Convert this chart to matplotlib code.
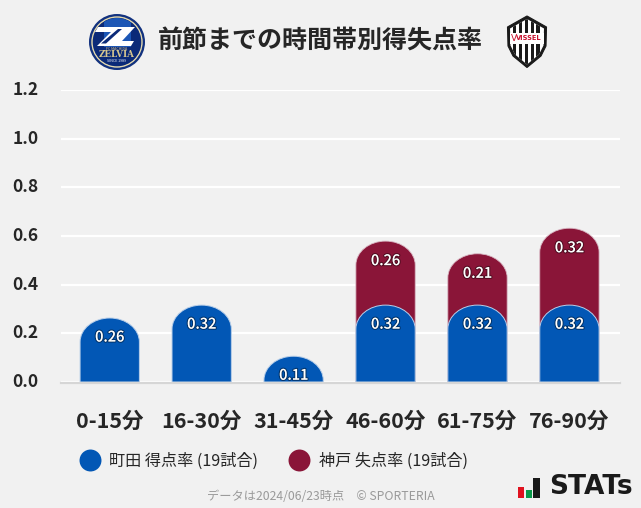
import matplotlib
matplotlib.use("Agg")
import matplotlib.pyplot as plt
from matplotlib.path import Path
from matplotlib.patches import PathPatch, Circle, Polygon, Rectangle
from matplotlib.lines import Line2D
from matplotlib.transforms import ScaledTranslation
import matplotlib.patheffects as pe

plt.rcParams['font.family'] = ['Noto Sans CJK JP', 'DejaVu Sans']

categories = ['0-15分', '16-30分', '31-45分', '46-60分', '61-75分', '76-90分']
machida_rate = [0.263, 0.316, 0.106, 0.316, 0.316, 0.316]
kobe_rate = [0.0, 0.0, 0.0, 0.263, 0.211, 0.316]
yticks = [0.0, 0.2, 0.4, 0.6, 0.8, 1.0, 1.2]
title = '前節までの時間帯別得失点率'
machida_label = '町田 得点率 (19試合)'
kobe_label = '神戸 失点率 (19試合)'
footer = 'データは2024/06/23時点\u3000© SPORTERIA'

BLUE = '#0257b5'
RED = '#8a1538'
BG = '#f1f1f1'
DARK = '#262626'

W, H = 641, 508
fig = plt.figure(figsize=(W / 100, H / 100), dpi=100, facecolor=BG)
L, R, T, B = 61, 620, 90, 382
ax = fig.add_axes([L / W, 1 - B / H, (R - L) / W, (B - T) / H], facecolor=BG)
ax.set_ylim(0, 1.2)
ax.set_xlim(-0.53, 5.55)
BAR_W = 0.645
CAP = 24 / (B - T) * 1.2


def arch(x, bottom, top):
    k = 0.5523
    hw = BAR_W / 2
    cap = min(CAP, top - bottom)
    verts = [(x - hw, bottom), (x - hw, top - cap),
             (x - hw, top - cap + k * cap), (x - k * hw, top), (x, top),
             (x + k * hw, top), (x + hw, top - cap + k * cap), (x + hw, top - cap),
             (x + hw, bottom), (x - hw, bottom)]
    codes = [Path.MOVETO, Path.LINETO, Path.CURVE4, Path.CURVE4, Path.CURVE4,
             Path.CURVE4, Path.CURVE4, Path.CURVE4, Path.LINETO, Path.CLOSEPOLY]
    return Path(verts, codes)


effects = [pe.withStroke(linewidth=1.6, foreground='#00000066')]
PX = 0.72
for i, (m, k) in enumerate(zip(machida_rate, kobe_rate)):
    if k > 0:
        ax.add_patch(PathPatch(arch(i, 0, m + k), fc=RED, ec='#d9b8c4', lw=0.6, zorder=3, clip_on=False))
        ax.annotate(f'{k:.2f}', (i, m + k), xytext=(0, -20 * PX), textcoords='offset points',
                    ha='center', va='center', color='white', fontsize=10.5, fontweight='medium',
                    path_effects=effects, zorder=6)
    ax.add_patch(PathPatch(arch(i, 0, m), fc=BLUE, ec='#b9cfe9', lw=0.7, zorder=4, clip_on=False))
    ax.annotate(f'{m:.2f}', (i, m), xytext=(0, -19.5 * PX), textcoords='offset points',
                ha='center', va='center', color='white', fontsize=10.5, fontweight='medium',
                path_effects=effects, zorder=6)

for s in ax.spines.values():
    s.set_visible(False)
ax.spines['bottom'].set_visible(True)
ax.spines['bottom'].set_color('#d6d6d6')
ax.spines['bottom'].set_linewidth(1.6)
ax.spines['bottom'].set_position(('outward', 0.7))
ax.spines['bottom'].set_zorder(5)

ax.set_yticks(yticks, [f'{v:.1f}' for v in yticks])
ax.set_xticks(range(len(categories)), categories)
ax.tick_params(axis='y', length=0, pad=16, labelsize=12.5, labelcolor=DARK)
ax.tick_params(axis='x', length=0, pad=20, labelsize=15.5, labelcolor=DARK)
shift = ScaledTranslation(0, 2 / 100, fig.dpi_scale_trans)
for t in ax.get_yticklabels():
    t.set_fontweight('bold')
    t.set_transform(t.get_transform() + shift)
for t in ax.get_xticklabels():
    t.set_fontweight('bold')
ax.grid(axis='y', color='white', lw=1.6, zorder=1)
ax.set_axisbelow(True)

# legend
handles = [Line2D([], [], ls='', marker='o', ms=15.8, color=BLUE, mew=0),
           Line2D([], [], ls='', marker='o', ms=15.8, color=RED, mew=0)]
fig.legend(handles, [machida_label, kobe_label], ncol=2, frameon=False, prop={'size': 11.6},
           loc='center left', bbox_to_anchor=(77 / W, 1 - 461.5 / H), labelcolor=DARK,
           handlelength=1.6, handletextpad=0.4, columnspacing=1.76, borderpad=0, borderaxespad=0)

# overlay in pixel coordinates for title, logos, footer
ov = fig.add_axes([0, 0, 1, 1], facecolor='none')
ov.set_xlim(0, W)
ov.set_ylim(H, 0)
ov.axis('off')
ov.text(320.5, 41, title, ha='center', va='center', fontsize=18, fontweight='bold', color=DARK)
ov.text(320.5, 497, footer, ha='center', va='center', fontsize=8.8, color='#9a9a9a')

# Zelvia crest
ZC = (117, 42)
ov.add_patch(Circle(ZC, 28, fc='#12327f', ec='none'))
ov.add_patch(Circle(ZC, 25, fc='none', ec='#e4d9ae', lw=1.0))
disc = Circle(ZC, 24, fc='#0b2a78', ec='none')
ov.add_patch(disc)
top = Rectangle((104, 17), 27, 30, fc='#1c56b5', ec='none')
ov.add_patch(top)
top.set_clip_path(disc)
ov.add_patch(Polygon([(98, 27), (135, 27), (122, 41), (134, 41), (131, 46), (97, 46), (111, 32), (95, 32)],
                     fc='white', ec='none'))
ov.add_patch(Polygon([(101, 43.5), (118, 29), (122, 29), (106, 43.5)], fc='#0b2a78', ec='none'))
ov.text(117, 49, 'FC MACHIDA', ha='center', va='center', fontsize=2.6, color='#d9c88f')
ov.text(117, 54.5, 'ZELVIA', ha='center', va='center', fontsize=6.2, fontweight='bold',
        family='DejaVu Serif', color='#d9c88f')
ov.text(117, 60.5, 'SINCE 1989', ha='center', va='center', fontsize=2.6, color='white')

# Vissel crest
shield = [(507.5, 27), (527, 16), (546.5, 27), (546, 46), (541, 56), (527, 67.5), (513, 56), (508, 46)]
ov.add_patch(Polygon(shield, fc='#1a1a1a', ec='#1a1a1a', lw=0.8))
inner = Polygon([(510, 28.5), (527, 19), (544, 28.5), (543.5, 45.5), (539, 54.5), (527, 64.5), (515, 54.5), (510.5, 45.5)],
                fc='white', ec='none')
ov.add_patch(inner)
for xs in (513.2, 519, 524.8, 530.6, 536.4):
    r = Rectangle((xs, 15), 3.2, 55, fc='#1a1a1a', ec='none')
    ov.add_patch(r)
    r.set_clip_path(inner)
band = Rectangle((510, 33), 34, 11, fc='white', ec='none')
ov.add_patch(band)
ov.text(513.5, 38.5, 'V', ha='center', va='center', fontsize=6.5, color='#c8102e', family='DejaVu Sans')
ov.text(529, 38.5, 'VISSEL', ha='center', va='center', fontsize=4.8, fontweight='bold', color='#c8102e',
        family='DejaVu Sans')

# STATs logo
ov.add_patch(Rectangle((518, 487), 6, 11, fc='#e0121f', ec='none'))
ov.add_patch(Rectangle((526, 490), 6, 8, fc='#0a9a4a', ec='none'))
ov.add_patch(Rectangle((533, 478), 7, 20, fc='#1a1a1a', ec='none'))
ov.text(549, 487.5, 'STATs', ha='left', va='center', fontsize=19, fontweight='bold', color='#1a1a1a',
        family='DejaVu Sans')

fig.savefig('out.png', dpi=100, facecolor=BG)
